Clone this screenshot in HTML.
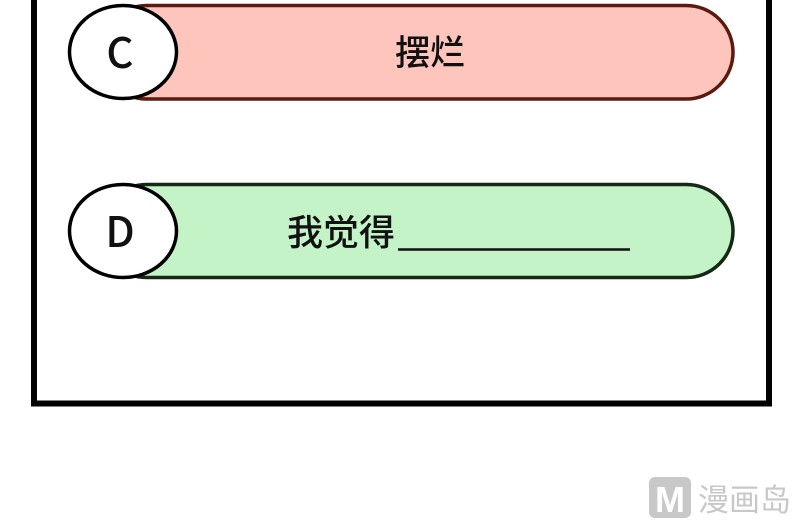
<!DOCTYPE html>
<html><head><meta charset="utf-8"><style>
html,body{margin:0;padding:0;background:#fff;width:800px;height:522px;overflow:hidden}
</style></head><body>
<svg width="800" height="522" viewBox="0 0 800 522" xmlns="http://www.w3.org/2000/svg">
<rect x="0" y="0" width="800" height="522" fill="#fff"/>
<path d="M34 0 V403.5 H769 V0" fill="none" stroke="#000" stroke-width="6"/>
<rect x="100" y="5.5" width="633" height="93.5" rx="46.75" fill="#fdc5bb" stroke="#5a1a10" stroke-width="3.5"/>
<ellipse cx="123" cy="52" rx="53.5" ry="46.5" fill="#fff" stroke="#000" stroke-width="3.5"/>
<text x="120" y="68" text-anchor="middle" font-family="Noto Sans CJK SC, sans-serif" font-weight="500" font-size="42" fill="#111">C</text>
<text x="430" y="65" text-anchor="middle" font-family="Noto Sans CJK SC, sans-serif" font-weight="500" font-size="35" fill="#111">摆烂</text>
<rect x="100" y="184.5" width="633" height="93" rx="46.5" fill="#c4f3c8" stroke="#142814" stroke-width="3.5"/>
<ellipse cx="123" cy="231" rx="53.5" ry="46.5" fill="#fff" stroke="#000" stroke-width="3.5"/>
<text x="120" y="247" text-anchor="middle" font-family="Noto Sans CJK SC, sans-serif" font-weight="500" font-size="42" fill="#111">D</text>
<text x="287" y="245" font-family="Noto Sans CJK SC, sans-serif" font-weight="500" font-size="36" fill="#111" textLength="108">我觉得</text>
<line x1="398" y1="249.5" x2="630" y2="249.5" stroke="#111" stroke-width="2.5"/>
<rect x="649" y="477" width="42" height="41" rx="6" fill="#c8c8c8"/>
<text x="670" y="512" text-anchor="middle" font-family="Liberation Sans, sans-serif" font-weight="bold" font-size="36" fill="#fff">M</text>
<text x="698" y="511" font-family="Noto Sans CJK SC, sans-serif" font-size="31" fill="#c8c8c8">漫画岛</text>
</svg>
</body></html>
